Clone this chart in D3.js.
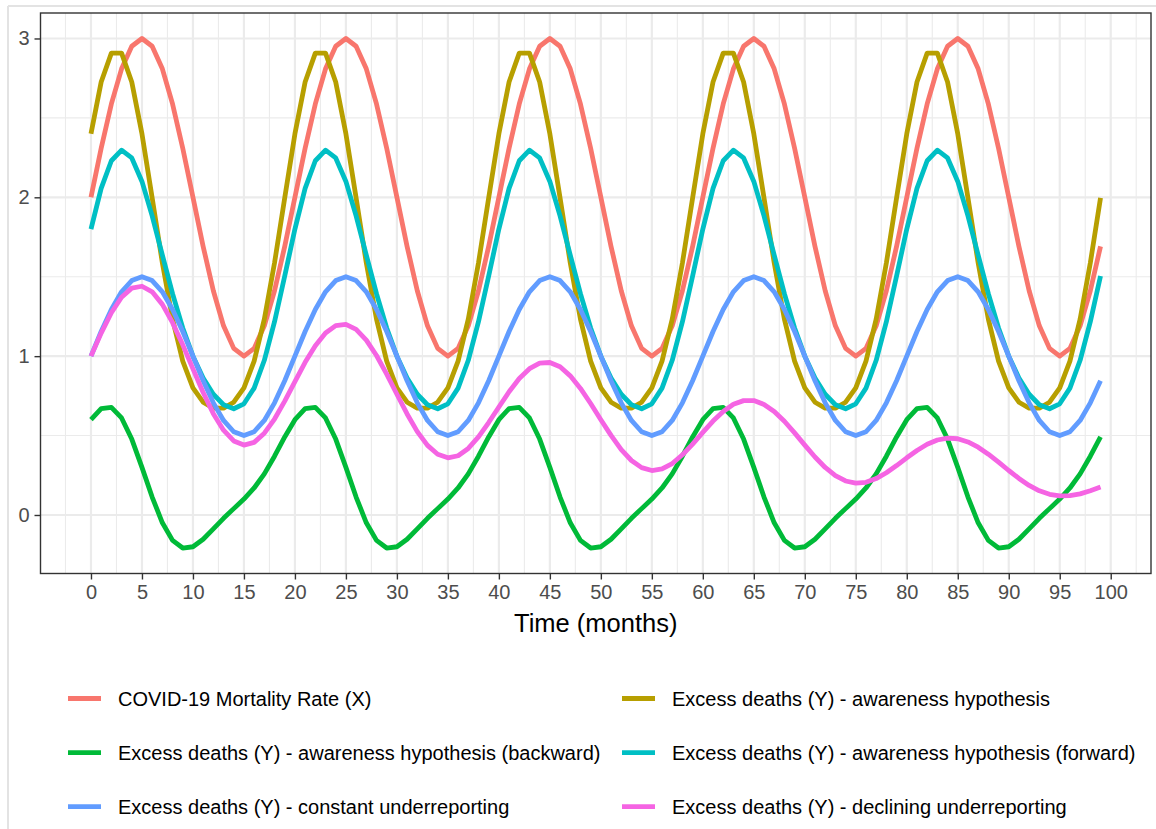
<!DOCTYPE html>
<html>
<head>
<meta charset="utf-8">
<script src="https://cdn.jsdelivr.net/npm/d3@7"></script>
<style>
  html, body { margin: 0; padding: 0; background: #fff; }
  svg { display: block; font-family: "Liberation Sans", Arial, Helvetica, sans-serif; }
</style>
</head>
<body>
<svg id="chart" width="1156" height="829"></svg>
<script>
// ---------------- DATA ----------------
const months = [
  0,1,2,3,4,5,6,7,8,9,10,11,12,13,14,15,16,17,18,19,
  20,21,22,23,24,25,26,27,28,29,30,31,32,33,34,35,36,37,38,39,
  40,41,42,43,44,45,46,47,48,49,50,51,52,53,54,55,56,57,58,59,
  60,61,62,63,64,65,66,67,68,69,70,71,72,73,74,75,76,77,78,79,
  80,81,82,83,84,85,86,87,88,89,90,91,92,93,94,95,96,97,98,99
];

const mortalityX = [
  2.000,2.309,2.588,2.809,2.951,3.000,2.951,2.809,2.588,2.309,2.000,1.691,1.412,1.191,1.049,1.000,1.049,1.191,1.412,1.691,
  2.000,2.309,2.588,2.809,2.951,3.000,2.951,2.809,2.588,2.309,2.000,1.691,1.412,1.191,1.049,1.000,1.049,1.191,1.412,1.691,
  2.000,2.309,2.588,2.809,2.951,3.000,2.951,2.809,2.588,2.309,2.000,1.691,1.412,1.191,1.049,1.000,1.049,1.191,1.412,1.691,
  2.000,2.309,2.588,2.809,2.951,3.000,2.951,2.809,2.588,2.309,2.000,1.691,1.412,1.191,1.049,1.000,1.049,1.191,1.412,1.691,
  2.000,2.309,2.588,2.809,2.951,3.000,2.951,2.809,2.588,2.309,2.000,1.691,1.412,1.191,1.049,1.000,1.049,1.191,1.412,1.691
];

const awareness = [
  2.400,2.726,2.908,2.908,2.726,2.400,1.996,1.587,1.233,0.969,0.800,0.710,0.673,0.673,0.710,0.800,0.969,1.233,1.587,1.996,
  2.400,2.726,2.908,2.908,2.726,2.400,1.996,1.587,1.233,0.969,0.800,0.710,0.673,0.673,0.710,0.800,0.969,1.233,1.587,1.996,
  2.400,2.726,2.908,2.908,2.726,2.400,1.996,1.587,1.233,0.969,0.800,0.710,0.673,0.673,0.710,0.800,0.969,1.233,1.587,1.996,
  2.400,2.726,2.908,2.908,2.726,2.400,1.996,1.587,1.233,0.969,0.800,0.710,0.673,0.673,0.710,0.800,0.969,1.233,1.587,1.996,
  2.400,2.726,2.908,2.908,2.726,2.400,1.996,1.587,1.233,0.969,0.800,0.710,0.673,0.673,0.710,0.800,0.969,1.233,1.587,1.996
];

const awarenessBackward = [
  0.600,0.670,0.678,0.611,0.478,0.300,0.113,-0.049,-0.160,-0.208,-0.200,-0.153,-0.087,-0.021,0.040,0.100,0.170,0.259,0.370,0.491,
  0.600,0.670,0.678,0.611,0.478,0.300,0.113,-0.049,-0.160,-0.208,-0.200,-0.153,-0.087,-0.021,0.040,0.100,0.170,0.259,0.370,0.491,
  0.600,0.670,0.678,0.611,0.478,0.300,0.113,-0.049,-0.160,-0.208,-0.200,-0.153,-0.087,-0.021,0.040,0.100,0.170,0.259,0.370,0.491,
  0.600,0.670,0.678,0.611,0.478,0.300,0.113,-0.049,-0.160,-0.208,-0.200,-0.153,-0.087,-0.021,0.040,0.100,0.170,0.259,0.370,0.491,
  0.600,0.670,0.678,0.611,0.478,0.300,0.113,-0.049,-0.160,-0.208,-0.200,-0.153,-0.087,-0.021,0.040,0.100,0.170,0.259,0.370,0.491
];

const awarenessForward = [
  1.800,2.056,2.230,2.297,2.248,2.100,1.883,1.636,1.393,1.177,1.000,0.862,0.760,0.694,0.669,0.700,0.799,0.974,1.217,1.505,
  1.800,2.056,2.230,2.297,2.248,2.100,1.883,1.636,1.393,1.177,1.000,0.862,0.760,0.694,0.669,0.700,0.799,0.974,1.217,1.505,
  1.800,2.056,2.230,2.297,2.248,2.100,1.883,1.636,1.393,1.177,1.000,0.862,0.760,0.694,0.669,0.700,0.799,0.974,1.217,1.505,
  1.800,2.056,2.230,2.297,2.248,2.100,1.883,1.636,1.393,1.177,1.000,0.862,0.760,0.694,0.669,0.700,0.799,0.974,1.217,1.505,
  1.800,2.056,2.230,2.297,2.248,2.100,1.883,1.636,1.393,1.177,1.000,0.862,0.760,0.694,0.669,0.700,0.799,0.974,1.217,1.505
];

const constantUnder = [
  1.000,1.155,1.294,1.405,1.476,1.500,1.476,1.405,1.294,1.155,1.000,0.845,0.706,0.595,0.524,0.500,0.524,0.595,0.706,0.845,
  1.000,1.155,1.294,1.405,1.476,1.500,1.476,1.405,1.294,1.155,1.000,0.845,0.706,0.595,0.524,0.500,0.524,0.595,0.706,0.845,
  1.000,1.155,1.294,1.405,1.476,1.500,1.476,1.405,1.294,1.155,1.000,0.845,0.706,0.595,0.524,0.500,0.524,0.595,0.706,0.845,
  1.000,1.155,1.294,1.405,1.476,1.500,1.476,1.405,1.294,1.155,1.000,0.845,0.706,0.595,0.524,0.500,0.524,0.595,0.706,0.845,
  1.000,1.155,1.294,1.405,1.476,1.500,1.476,1.405,1.294,1.155,1.000,0.845,0.706,0.595,0.524,0.500,0.524,0.595,0.706,0.845
];

const decliningUnder = [
  1.000,1.145,1.273,1.371,1.428,1.440,1.405,1.326,1.211,1.071,0.920,0.771,0.638,0.534,0.466,0.440,0.457,0.515,0.604,0.717,
  0.840,0.961,1.066,1.146,1.192,1.200,1.169,1.101,1.004,0.887,0.760,0.636,0.525,0.438,0.382,0.360,0.373,0.419,0.492,0.582,
  0.680,0.776,0.859,0.921,0.956,0.960,0.933,0.876,0.797,0.702,0.600,0.501,0.412,0.343,0.298,0.280,0.290,0.324,0.379,0.446,
  0.520,0.591,0.652,0.697,0.720,0.720,0.696,0.652,0.590,0.517,0.440,0.365,0.299,0.248,0.214,0.200,0.206,0.229,0.266,0.311,
  0.360,0.406,0.445,0.472,0.484,0.480,0.460,0.427,0.383,0.333,0.280,0.230,0.186,0.152,0.130,0.120,0.122,0.133,0.153,0.176
];

const seriesNames = [
  "COVID-19 Mortality Rate (X)",
  "Excess deaths (Y) - awareness hypothesis",
  "Excess deaths (Y) - awareness hypothesis (backward)",
  "Excess deaths (Y) - awareness hypothesis (forward)",
  "Excess deaths (Y) - constant underreporting",
  "Excess deaths (Y) - declining underreporting"
];
const seriesColors = ["#F8766D", "#B79F00", "#00BA38", "#00BFC4", "#619CFF", "#F564E3"];
const seriesValues = [mortalityX, awareness, awarenessBackward, awarenessForward, constantUnder, decliningUnder];

const xTicks = [0,5,10,15,20,25,30,35,40,45,50,55,60,65,70,75,80,85,90,95,100];
const xMinor = [-2.5,2.5,7.5,12.5,17.5,22.5,27.5,32.5,37.5,42.5,47.5,52.5,57.5,62.5,67.5,72.5,77.5,82.5,87.5,92.5,97.5,102.5];
const yTicks = [0,1,2,3];
const yMinor = [0.5,1.5,2.5];
const xTitle = "Time (months)";

// ---------------- LAYOUT ----------------
const svg = d3.select("#chart");
const panel = { left: 40.5, right: 1151, top: 13, bottom: 573.5 };

// ggplot-style 5% expansion of the data range
const allVals = seriesValues.flat();
const xMin = d3.min(months), xMax = d3.max(months);
const yMin = d3.min(allVals), yMax = d3.max(allVals);
const xPad = (xMax - xMin) * 0.05, yPad = (yMax - yMin) * 0.05;

const x = d3.scaleLinear().domain([xMin - xPad, xMax + xPad]).range([panel.left, panel.right]);
const y = d3.scaleLinear().domain([yMin - yPad, yMax + yPad]).range([panel.bottom, panel.top]);

// outer light frame
svg.append("line").attr("x1", 8).attr("x2", 1156).attr("y1", 6).attr("y2", 6)
  .attr("stroke", "#e3e3e3").attr("stroke-width", 2);
svg.append("line").attr("x1", 8).attr("x2", 8).attr("y1", 6).attr("y2", 829)
  .attr("stroke", "#e3e3e3").attr("stroke-width", 2);

// panel background
svg.append("rect").attr("x", panel.left).attr("y", panel.top)
  .attr("width", panel.right - panel.left).attr("height", panel.bottom - panel.top)
  .attr("fill", "#fff");

const grid = svg.append("g");
grid.selectAll(".xminor").data(xMinor).join("line")
  .attr("x1", d => x(d)).attr("x2", d => x(d))
  .attr("y1", panel.top).attr("y2", panel.bottom)
  .attr("stroke", "#EBEBEB").attr("stroke-width", 1.1);
grid.selectAll(".yminor").data(yMinor).join("line")
  .attr("y1", d => y(d)).attr("y2", d => y(d))
  .attr("x1", panel.left).attr("x2", panel.right)
  .attr("stroke", "#EBEBEB").attr("stroke-width", 1.1);
grid.selectAll(".xmajor").data(xTicks).join("line")
  .attr("x1", d => x(d)).attr("x2", d => x(d))
  .attr("y1", panel.top).attr("y2", panel.bottom)
  .attr("stroke", "#EBEBEB").attr("stroke-width", 2.2);
grid.selectAll(".ymajor").data(yTicks).join("line")
  .attr("y1", d => y(d)).attr("y2", d => y(d))
  .attr("x1", panel.left).attr("x2", panel.right)
  .attr("stroke", "#EBEBEB").attr("stroke-width", 2.2);

// series lines
const line = d3.line().x((d, i) => x(months[i])).y(d => y(d));
const plot = svg.append("g")
  .attr("clip-path", null);
seriesValues.forEach((vals, k) => {
  plot.append("path")
    .datum(vals)
    .attr("d", line)
    .attr("fill", "none")
    .attr("stroke", seriesColors[k])
    .attr("stroke-width", 4.8)
    .attr("stroke-linejoin", "round")
    .attr("stroke-linecap", "butt");
});

// panel border
svg.append("rect").attr("x", panel.left).attr("y", panel.top)
  .attr("width", panel.right - panel.left).attr("height", panel.bottom - panel.top)
  .attr("fill", "none").attr("stroke", "#333333").attr("stroke-width", 1.4);

// axes
const xAxis = d3.axisBottom(x).tickValues(xTicks).tickSize(6).tickPadding(5).tickFormat(d3.format("d"));
const gx = svg.append("g").attr("transform", `translate(0,${panel.bottom})`).call(xAxis);
gx.select(".domain").remove();
gx.selectAll(".tick line").attr("stroke", "#333333").attr("stroke-width", 1.4);
gx.selectAll(".tick text").attr("fill", "#4D4D4D").attr("font-size", "20px")
  .attr("font-family", "Liberation Sans, Arial, sans-serif").attr("dy", "0.72em");

const yAxis = d3.axisLeft(y).tickValues(yTicks).tickSize(6).tickPadding(5).tickFormat(d3.format("d"));
const gy = svg.append("g").attr("transform", `translate(${panel.left},0)`).call(yAxis);
gy.select(".domain").remove();
gy.selectAll(".tick line").attr("stroke", "#333333").attr("stroke-width", 1.4);
gy.selectAll(".tick text").attr("fill", "#4D4D4D").attr("font-size", "20px")
  .attr("font-family", "Liberation Sans, Arial, sans-serif");

// x title
svg.append("text")
  .attr("x", (panel.left + panel.right) / 2).attr("y", 632)
  .attr("text-anchor", "middle").attr("font-size", "25.5px").attr("fill", "#000")
  .text(xTitle);

// legend (2 columns, filled by row)
const legendCols = [68, 622];
const legendRows = [698.5, 752.7, 806.7];
const legend = svg.append("g");
seriesNames.forEach((name, k) => {
  const cx = legendCols[k % 2];
  const cy = legendRows[Math.floor(k / 2)];
  legend.append("line")
    .attr("x1", cx).attr("x2", cx + 33).attr("y1", cy).attr("y2", cy)
    .attr("stroke", seriesColors[k]).attr("stroke-width", 4.8);
  legend.append("text")
    .attr("x", cx + 50).attr("y", cy).attr("dy", "0.36em")
    .attr("font-size", "20px").attr("fill", "#000")
    .text(name);
});
</script>
</body>
</html>
